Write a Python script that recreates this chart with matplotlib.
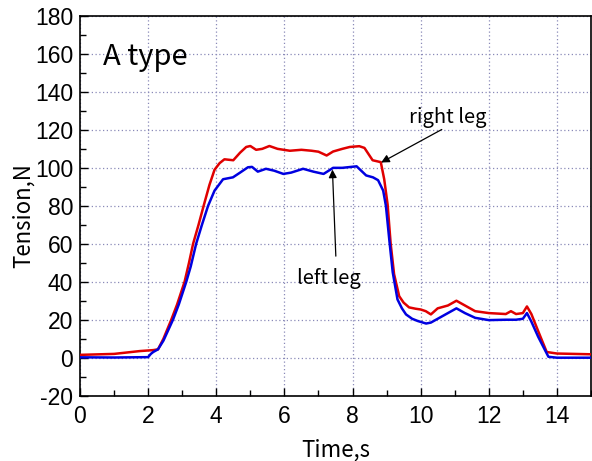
import matplotlib
matplotlib.use("Agg")
import matplotlib.pyplot as plt
from matplotlib.ticker import MultipleLocator

# ---- data ----
t_right = [0, 1.0, 1.76, 2.0, 2.15, 2.29, 2.45, 2.68, 2.85, 3.07, 3.2, 3.32, 3.48, 3.63, 3.8,
           3.95, 4.1, 4.24, 4.5, 4.7, 4.88, 5.0, 5.17, 5.35, 5.56, 5.8, 6.16, 6.5, 6.8,
           7.0, 7.24, 7.43, 7.7, 7.92, 8.2, 8.35, 8.59, 8.83, 8.93, 9.03, 9.12, 9.22,
           9.37, 9.5, 9.66, 9.85, 10.0, 10.15, 10.3, 10.5, 10.8, 11.05, 11.3, 11.6,
           12.0, 12.5, 12.65, 12.8, 13.0, 13.12, 13.25, 13.45, 13.7, 14.0, 15.0]
right_leg = [1.5, 2.0, 3.5, 3.8, 4.0, 4.4, 10, 20, 28, 40, 50, 60, 70, 80, 91,
             99, 102.5, 104.5, 104, 108, 111, 111.5, 109.5, 110, 111.5, 110, 109, 109.5, 109,
             108.5, 106.5, 108.6, 110, 111, 111.4, 110.5, 104, 103, 94, 80.7, 60, 44,
             32.4, 29, 26.5, 25.8, 25.4, 24.5, 22.8, 26, 27.5, 30, 27.5, 24.5,
             23.5, 23, 24.5, 23, 23.5, 27, 23, 14, 3, 2.2, 1.8]

t_left = [0, 1.0, 2.0, 2.08, 2.15, 2.29, 2.45, 2.73, 2.9, 3.12, 3.25, 3.41, 3.58, 3.76,
          3.95, 4.2, 4.49, 4.7, 4.93, 5.05, 5.22, 5.46, 5.7, 5.97, 6.2, 6.55, 6.85, 7.15,
          7.3, 7.43, 7.7, 8.12, 8.4, 8.6, 8.75, 8.9, 8.98, 9.08, 9.18, 9.32, 9.45, 9.57,
          9.75, 9.92, 10.16, 10.3, 10.45, 10.7, 10.85, 11.05, 11.3, 11.6, 12.0, 12.5,
          12.8, 13.0, 13.12, 13.25, 13.45, 13.75, 14.0, 15.0]
left_leg = [0.2, 0.1, 0.3, 2.0, 3.0, 4.4, 9, 20, 28, 40, 48, 60, 70, 80,
            88, 94, 95, 97.5, 100.3, 100.5, 98, 99.5, 98.5, 96.8, 97.5, 99.5, 98, 96.8,
            98.5, 100, 100, 100.8, 96, 95, 93.5, 88, 80, 62, 45, 30.7, 26, 22.8,
            20.5, 19.3, 18, 18.5, 20, 22.5, 24, 26, 23.5, 21, 19.8, 20,
            20, 20.5, 23.5, 19, 11, 0.5, 0, 0]

x_ticks = [0, 2, 4, 6, 8, 10, 12, 14]
y_ticks = [-20, 0, 20, 40, 60, 80, 100, 120, 140, 160, 180]

plt.rcParams['axes.unicode_minus'] = False
plt.rcParams['font.family'] = ['Liberation Sans', 'DejaVu Sans']

fig = plt.figure(figsize=(5.92, 4.61), dpi=100)
ax = fig.add_axes([0.1351, 0.1417, 0.8632, 0.8237])

ax.plot(t_right, right_leg, color='#e00000', lw=1.8, zorder=3)
ax.plot(t_left, left_leg, color='#0000e0', lw=1.8, zorder=3)

ax.set_xlim(0, 15)
ax.set_ylim(-20, 180)
ax.set_xticks(x_ticks)
ax.set_yticks(y_ticks)
ax.xaxis.set_minor_locator(MultipleLocator(1))
ax.yaxis.set_minor_locator(MultipleLocator(10))

ax.grid(True, which='major', color='#8a8ab8', linestyle=(0, (1, 2)), linewidth=0.9)
ax.set_axisbelow(True)

ax.tick_params(which='both', direction='in', top=False, right=False, labelsize=16.5, width=1.0)
ax.tick_params(which='major', length=6)
ax.tick_params(which='minor', length=4)
ax.tick_params(axis='x', pad=7)
ax.tick_params(axis='y', pad=5)

for s in ax.spines.values():
    s.set_linewidth(1.2)

lab_font = ['Noto Sans CJK JP', 'DejaVu Sans']
ax.set_xlabel('Time,s', fontsize=16, family=lab_font, labelpad=7)
ax.set_ylabel('Tension,N', fontsize=16, family=lab_font)
ax.yaxis.set_label_coords(-0.088, 0.475)

ax.text(0.67, 154.4, 'A type', fontsize=21, family=lab_font, ha='left', va='baseline')

ax.text(10.8, 123.7, 'right leg', fontsize=14.5, family=lab_font, ha='center', va='baseline')
ax.annotate('', xy=(8.84, 102.8), xytext=(10.62, 120.2),
            arrowprops=dict(arrowstyle='-|>', color='black', lw=0.9, mutation_scale=12,
                            shrinkA=0, shrinkB=0))

ax.text(7.32, 38.8, 'left leg', fontsize=14.5, family=lab_font, ha='center', va='baseline')
ax.annotate('', xy=(7.41, 99.1), xytext=(7.51, 53.5),
            arrowprops=dict(arrowstyle='-|>', color='black', lw=0.9, mutation_scale=12,
                            shrinkA=0, shrinkB=0))

fig.savefig('out.png', dpi=100)
